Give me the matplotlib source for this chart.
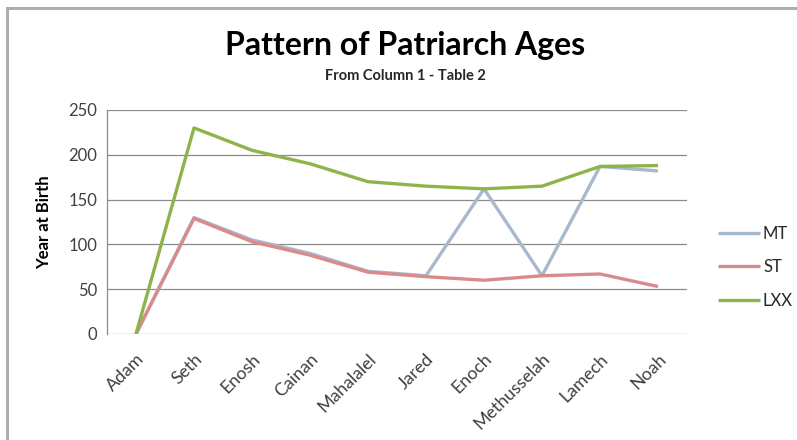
import matplotlib
matplotlib.use("Agg")
import matplotlib.pyplot as plt
from matplotlib.patches import Rectangle

categories = ["Adam", "Seth", "Enosh", "Cainan", "Mahalalel", "Jared",
              "Enoch", "Methusselah", "Lamech", "Noah"]
mt = [0, 130, 105, 90, 70, 65, 162, 65, 187, 182]
st = [0, 129, 103, 88, 69, 64, 60, 65, 67, 53]
lxx = [0, 230, 205, 190, 170, 165, 162, 165, 187, 188]
yticks = [0, 50, 100, 150, 200, 250]

plt.rcParams['font.family'] = ['Lato', 'DejaVu Sans']

fig = plt.figure(figsize=(7.97, 4.40), dpi=100)
fig.patch.set_facecolor("white")
# outer chart frame (clipped at right/bottom)
fig.patches.append(Rectangle((7/797, -0.1), 1.2, 1 - 8/440 + 0.1,
                             transform=fig.transFigure, fill=False,
                             edgecolor="#AEAEAE", linewidth=2.2))

ax = fig.add_axes([107/797, 1 - 334/440, 580/797, 224/440])
x = list(range(len(categories)))
ax.plot(x, mt, color="#A9B9CC", lw=2.4, label="MT", solid_capstyle="butt")
ax.plot(x, st, color="#DA8A8B", lw=2.4, label="ST", solid_capstyle="butt")
ax.plot(x, lxx, color="#8DB44B", lw=2.4, label="LXX", solid_capstyle="butt")

ax.set_xlim(-0.5, len(categories) - 0.5)
ax.set_ylim(0, 250)
ax.set_yticks(yticks)
ax.set_xticks(x)
ax.set_xticklabels(categories, rotation=45, ha="right", va="top",
                   rotation_mode="anchor", fontsize=12.8, color="#404040")
ax.tick_params(axis="x", length=0, pad=12)
ax.tick_params(axis="y", length=0, pad=7, labelsize=12, labelcolor="#404040")
ax.grid(axis="y", color="#8C8C8C", lw=0.9)
ax.set_axisbelow(True)
for s in ["top", "right", "bottom"]:
    ax.spines[s].set_visible(False)
ax.spines["left"].set_color("#8C8C8C")
ax.spines["left"].set_linewidth(0.9)
ax.set_ylabel("Year at Birth", fontsize=12, fontweight="bold", labelpad=12)

fig.text(405/797, 1 - 46/440, "Pattern of Patriarch Ages", ha="center",
         va="center", fontsize=23, fontweight="bold", color="black")
fig.text(405/797, 1 - 76/440, "From Column 1 - Table 2", ha="center",
         va="center", fontsize=10.5, fontweight="bold", color="#262626")

leg = fig.legend(loc="center left", bbox_to_anchor=(703/797, 1 - 267/440),
                 frameon=False, fontsize=12, handlelength=2.5,
                 handletextpad=0.2, labelspacing=1.05)
for t in leg.get_texts():
    t.set_color("#262626")

fig.savefig("out.png", dpi=100)
